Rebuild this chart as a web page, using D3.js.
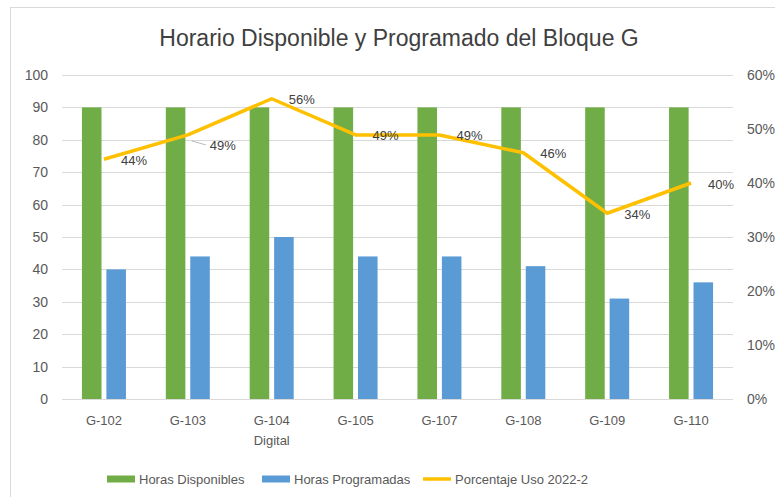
<!DOCTYPE html>
<html>
<head>
<meta charset="utf-8">
<script src="https://cdn.jsdelivr.net/npm/d3@7"></script>
<style>
	body { margin: 0; background: #fff; }
	svg { display: block; font-family: "Liberation Sans", "DejaVu Sans", sans-serif; }
</style>
</head>
<body>
<div id="chart"></div>
<script>
// data
var categories = ['G-102', 'G-103', 'G-104 Digital', 'G-105', 'G-107', 'G-108', 'G-109', 'G-110'];
var horasDisponibles = [90, 90, 90, 90, 90, 90, 90, 90];
var horasProgramadas = [40, 44, 50, 44, 44, 41, 31, 36];
var porcentajeUso = [0.444, 0.489, 0.556, 0.489, 0.489, 0.456, 0.344, 0.40];
var leftTicks = [0, 10, 20, 30, 40, 50, 60, 70, 80, 90, 100];
var rightTicks = [0, 0.1, 0.2, 0.3, 0.4, 0.5, 0.6];

var width = 775, height = 497;
var plot = {left: 62, right: 733, top: 75, bottom: 399};
var colors = {disp: '#70AD47', prog: '#5B9BD5', pct: '#FFC000'};

var svg = d3.select('#chart').append('svg').attr('width', width).attr('height', height);

// chart frame
svg.append('rect')
	.attr('x', 10.5).attr('y', 7.5)
	.attr('width', width).attr('height', height)
	.attr('fill', '#fff').attr('stroke', '#d9d9d9');

svg.append('text')
	.attr('x', 399).attr('y', 46)
	.attr('text-anchor', 'middle')
	.attr('font-size', 23)
	.attr('fill', '#404040')
	.text('Horario Disponible y Programado del Bloque G');

var x = d3.scaleBand().domain(categories).range([plot.left, plot.right]);
var xs = d3.scaleBand().domain(['disp', 'prog']).range([-22, 22]).paddingInner(0.2);
var y = d3.scaleLinear().domain([0, 100]).range([plot.bottom, plot.top]);
var y2 = d3.scaleLinear().domain([0, 0.6]).range([plot.bottom, plot.top]);

// gridlines
svg.append('g').selectAll('line')
	.data(leftTicks)
	.join('line')
		.attr('x1', plot.left).attr('x2', plot.right)
		.attr('y1', function(d) { return Math.round(y(d)) + 0.5; })
		.attr('y2', function(d) { return Math.round(y(d)) + 0.5; })
		.attr('stroke', '#d9d9d9');

// left axis
var leftAxis = svg.append('g')
	.attr('transform', 'translate(' + (plot.left - 14) + ',0)')
	.call(d3.axisLeft(y).tickValues(leftTicks).tickSize(0).tickPadding(0));
leftAxis.select('.domain').remove();
leftAxis.selectAll('text').attr('font-size', 14).attr('fill', '#595959').attr('font-family', null);

// right axis
var rightAxis = svg.append('g')
	.attr('transform', 'translate(' + (plot.right + 14) + ',0)')
	.call(d3.axisRight(y2).tickValues(rightTicks).tickFormat(d3.format('.0%')).tickSize(0).tickPadding(0));
rightAxis.select('.domain').remove();
rightAxis.selectAll('text').attr('font-size', 14).attr('fill', '#595959').attr('font-family', null);

// bars
var groups = svg.append('g').selectAll('g')
	.data(categories)
	.join('g')
		.attr('transform', function(d) { return 'translate(' + (x(d) + x.bandwidth() / 2) + ',0)'; });

groups.append('rect')
	.attr('x', xs('disp')).attr('width', xs.bandwidth())
	.attr('y', function(d, i) { return y(horasDisponibles[i]); })
	.attr('height', function(d, i) { return y(0) - y(horasDisponibles[i]); })
	.attr('fill', colors.disp);

groups.append('rect')
	.attr('x', xs('prog')).attr('width', xs.bandwidth())
	.attr('y', function(d, i) { return y(horasProgramadas[i]); })
	.attr('height', function(d, i) { return y(0) - y(horasProgramadas[i]); })
	.attr('fill', colors.prog);

// x labels (split on the space like Excel wrapping)
groups.append('text')
	.attr('text-anchor', 'middle')
	.attr('font-size', 13)
	.attr('fill', '#595959')
	.selectAll('tspan')
	.data(function(d) { return d.split(' '); })
	.join('tspan')
		.attr('x', 0)
		.attr('y', function(d, i) { return 425 + i * 20; })
		.text(function(d) { return d; });

// percentage line
var cx = function(d, i) { return x(categories[i]) + x.bandwidth() / 2; };
var line = d3.line().x(cx).y(function(d) { return y2(d); });

svg.append('path')
	.datum(porcentajeUso)
	.attr('d', line)
	.attr('fill', 'none')
	.attr('stroke', colors.pct)
	.attr('stroke-width', 3.5)
	.attr('stroke-linejoin', 'round');

// data labels, G-103 was dragged off the point in the original (leader line)
var moved = {'G-103': [22, 11]};
var labels = svg.append('g');
porcentajeUso.forEach(function(v, i) {
	var px = cx(v, i), py = y2(v);
	var off = moved[categories[i]] || [17, 1];
	if (moved[categories[i]]) {
		labels.append('line')
			.attr('x1', px + 4).attr('y1', py + 6)
			.attr('x2', px + off[0] - 4).attr('y2', py + off[1] - 1)
			.attr('stroke', '#a6a6a6').attr('stroke-width', 0.8);
	}
	labels.append('text')
		.attr('x', px + off[0]).attr('y', py + off[1])
		.attr('dy', '0.35em')
		.attr('font-size', 13)
		.attr('fill', '#404040')
		.text(d3.format('.0%')(v));
});

// legend
var legend = [
	{name: 'Horas Disponibles', key: 'disp', x: 107},
	{name: 'Horas Programadas', key: 'prog', x: 262},
	{name: 'Porcentaje Uso 2022-2', key: 'pct', x: 423}
];
var lg = svg.append('g').selectAll('g')
	.data(legend)
	.join('g')
		.attr('transform', function(d) { return 'translate(' + d.x + ',479)'; });
lg.filter(function(d) { return d.key !== 'pct'; }).append('rect')
	.attr('x', 0).attr('y', -3.5).attr('width', 28).attr('height', 7)
	.attr('fill', function(d) { return colors[d.key]; });
lg.filter(function(d) { return d.key === 'pct'; }).append('line')
	.attr('x1', 0).attr('x2', 28)
	.attr('stroke', colors.pct).attr('stroke-width', 3.5);
lg.append('text')
	.attr('x', 32).attr('dy', '0.35em')
	.attr('font-size', 13)
	.attr('fill', '#595959')
	.text(function(d) { return d.name; });
</script>
</body>
</html>
